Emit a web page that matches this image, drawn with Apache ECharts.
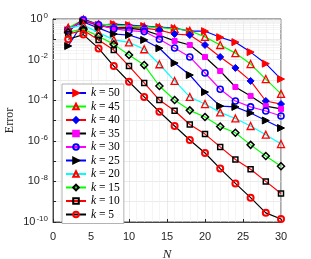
<!DOCTYPE html>
<html>
<head>
<meta charset="utf-8">
<script src="https://cdn.jsdelivr.net/npm/echarts@6/dist/echarts.min.js"></script>
<style>html,body{margin:0;padding:0;background:#fff}#c{width:311px;height:259px}</style>
</head>
<body>
<div id="c"></div>
<script>
// N values (x)
var N = [2,4,6,8,10,12,14,16,18,20,22,24,26,28,30];
// Error values for each k
var err_k50 = [2.82e-1,7.94e-1,5.01e-1,5.62e-1,5.01e-1,4.47e-1,3.98e-1,3.55e-1,2.51e-1,2.51e-1,1.26e-1,7.24e-2,2.34e-2,6.31e-3,1.10e-3];
var err_k45 = [3.72e-1,9.55e-1,5.62e-1,5.01e-1,4.47e-1,4.17e-1,3.80e-1,3.31e-1,2.63e-1,1.32e-1,5.25e-2,2.09e-2,6.03e-3,1.10e-3,2.04e-4];
var err_k40 = [3.16e-1,8.91e-1,4.47e-1,3.98e-1,3.80e-1,3.55e-1,2.82e-1,1.82e-1,1.62e-1,5.25e-2,1.35e-2,3.89e-3,8.91e-4,9.12e-5,6.46e-5];
var err_k35 = [2.51e-1,9.8e-1,5.01e-1,3.55e-1,3.55e-1,2.82e-1,1.58e-1,8.32e-2,5.25e-2,1.35e-2,2.75e-3,4.47e-4,1.62e-4,5.13e-5,3.72e-5];
var err_k30 = [2.82e-1,8.91e-1,5.25e-1,3.24e-1,2.69e-1,2.40e-1,1.00e-1,3.72e-2,1.35e-2,2.19e-3,3.47e-4,9.12e-5,4.68e-5,2.95e-5,1.66e-5];
var err_k25 = [4.68e-2,7.08e-1,3.55e-1,1.82e-1,1.62e-1,9.33e-2,3.63e-2,6.76e-3,1.74e-3,2.51e-4,5.13e-5,4.68e-5,2.34e-5,1.00e-5,4.27e-6];
var err_k20 = [3.55e-1,5.01e-1,2.14e-1,9.33e-2,7.08e-2,3.24e-2,5.89e-3,8.91e-4,1.45e-4,6.46e-5,2.51e-5,1.26e-5,5.37e-6,2.00e-6,6.92e-7];
var err_k15 = [2.24e-1,3.16e-1,1.41e-1,5.62e-2,1.70e-2,5.37e-3,5.01e-4,1.02e-4,3.16e-5,1.48e-5,5.01e-6,2.51e-6,6.31e-7,1.78e-7,5.62e-8];
var err_k10 = [1.78e-1,2.82e-1,9.33e-2,2.95e-2,4.79e-3,7.08e-4,1.02e-4,3.02e-5,6.31e-6,2.14e-6,5.01e-7,1.20e-7,3.98e-8,1.00e-8,2.51e-9];
var err_k5  = [1.00e-1,1.70e-1,3.55e-2,4.79e-3,8.13e-4,1.45e-4,2.69e-5,5.37e-6,1.10e-6,2.51e-7,4.27e-8,7.94e-9,1.58e-9,2.82e-10,1.41e-10];
var seriesNames = ['k = 50','k = 45','k = 40','k = 35','k = 30','k = 25','k = 20','k = 15','k = 10','k = 5'];
var seriesValues = [err_k50,err_k45,err_k40,err_k35,err_k30,err_k25,err_k20,err_k15,err_k10,err_k5];
var xTicks = [0,5,10,15,20,25,30];

var styles = [
  {line:'#0000ff', symbol:'triangle', rot:-90, fill:'#ff0000', border:'#ff0000', bw:1, size:7},
  {line:'#00ff00', symbol:'triangle', rot:0, fill:'rgba(0,0,0,0)', border:'#ff0000', bw:1.3, size:7},
  {line:'#ff0000', symbol:'diamond', rot:0, fill:'#0000ff', border:'#0000ff', bw:1, size:7},
  {line:'#000000', symbol:'rect', rot:0, fill:'#ff00ff', border:'#ff00ff', bw:1, size:5},
  {line:'#ff00ff', symbol:'circle', rot:0, fill:'rgba(0,0,0,0)', border:'#0000ff', bw:1.6, size:6},
  {line:'#0000ff', symbol:'triangle', rot:-90, fill:'#000000', border:'#000000', bw:1, size:7},
  {line:'#00ffff', symbol:'triangle', rot:0, fill:'rgba(0,0,0,0)', border:'#ff0000', bw:1.3, size:7},
  {line:'#00ff00', symbol:'diamond', rot:0, fill:'rgba(0,0,0,0)', border:'#000000', bw:1.5, size:7},
  {line:'#ff0000', symbol:'rect', rot:0, fill:'rgba(0,0,0,0)', border:'#000000', bw:1.5, size:5},
  {line:'#000000', symbol:'circle', rot:0, fill:'rgba(0,0,0,0)', border:'#ff0000', bw:2, size:6}
];

var minorY = [];
for (var e = -10; e < 0; e++) for (var m = 2; m <= 9; m++) minorY.push({yAxis: m * Math.pow(10, e)});

var series = [{
  type:'line', data:[], silent:true, symbol:'none',
  markLine:{silent:true, symbol:'none', label:{show:false},
    lineStyle:{color:'#ececec', width:0.6, type:'solid'}, data:minorY, animation:false}
}];
seriesNames.forEach(function(nm, i){
  var s = styles[i];
  series.push({
    name:nm, type:'line', z: 10+i,
    data: N.map(function(n, j){ return [n, seriesValues[i][j]]; }),
    symbol:s.symbol, symbolRotate:s.rot, symbolSize:s.size, showAllSymbol:true,
    lineStyle:{color:s.line, width:1.2},
    itemStyle:{color:s.fill, borderColor:s.border, borderWidth:s.bw},
    emphasis:{disabled:true}, animation:false
  });
});

var chart = echarts.init(document.getElementById('c'), null, {renderer:'canvas'});
chart.setOption({
  animation:false,
  backgroundColor:'#fff',
  grid:{left:53, right:30, top:19, bottom:37, containLabel:false, outerBoundsMode:'none',
    show:true, borderColor:'#262626', borderWidth:0.8, backgroundColor:'#fff'},
  xAxis:{
    type:'value', min:0, max:30, interval:5,
    name:'N', nameLocation:'middle', nameGap:26, nameMoveOverlap:false,
    nameTextStyle:{fontFamily:'Liberation Serif', fontStyle:'italic', fontSize:13, color:'#262626'},
    axisLine:{show:true, lineStyle:{color:'#262626', width:0.8}},
    axisTick:{show:true, inside:true, length:3, lineStyle:{color:'#262626'}},
    minorTick:{show:false},
    axisLabel:{fontFamily:'Liberation Sans', fontSize:11, color:'#262626', margin:9,
      formatter:function(v){ return xTicks.indexOf(v) >= 0 ? String(v) : ''; }},
    splitLine:{show:true, lineStyle:{color:'#dedede', width:0.6}},
    minorSplitLine:{show:true, lineStyle:{color:'#efefef', width:0.6}}
  },
  yAxis:{
    type:'log', logBase:10, min:1e-10, max:1, interval:1,
    name:'Error', nameLocation:'middle', nameGap:37, nameMoveOverlap:false,
    nameTextStyle:{fontFamily:'Liberation Serif', fontSize:12, color:'#262626'},
    axisLine:{show:true, lineStyle:{color:'#262626', width:0.8}},
    axisTick:{show:true, inside:true, length:3, lineStyle:{color:'#262626'}},
    axisLabel:{margin:5, color:'#262626',
      formatter:function(v){
        var ex = Math.round(Math.log(v)/Math.LN10);
        if (ex % 2 !== 0) return '';
        return '{b|10}{s|' + ex + '}';
      },
      rich:{
        b:{fontFamily:'Liberation Sans', fontSize:11, color:'#262626'},
        s:{fontFamily:'Liberation Sans', fontSize:8, color:'#262626', padding:[0,0,7,1]}
      }
    },
    splitLine:{show:true, lineStyle:{color:'#dedede', width:0.6}}
  },
  legend:{
    show:true, orient:'vertical', left:62, top:84,
    data:seriesNames,
    itemWidth:20, itemHeight:7, itemGap:1.5,
    padding:[3,4,3,3],
    backgroundColor:'#fff', borderColor:'#a0a0a0', borderWidth:0.8,
    selectedMode:false,
    textStyle:{fontFamily:'Liberation Serif', fontSize:11.5, color:'#000', lineHeight:12,
      rich:{i:{fontFamily:'Liberation Serif', fontStyle:'italic', fontSize:11.5, color:'#000'}}},
    formatter:function(name){ return '{i|k}' + name.slice(1); }
  },
  series:series
});
</script>
</body>
</html>
